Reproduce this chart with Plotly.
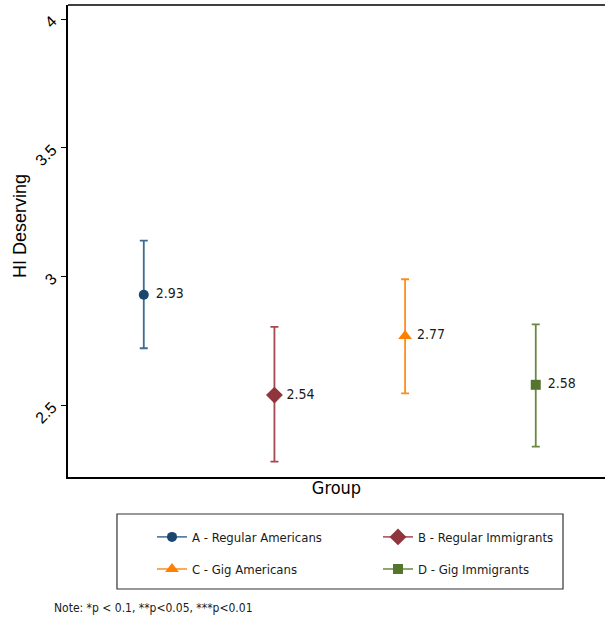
import plotly.graph_objects as go

groups = ["A - Regular Americans", "B - Regular Immigrants", "C - Gig Americans", "D - Gig Immigrants"]
legend_rows = ["legend", "legend", "legend2", "legend2"]
xpos = [1, 2, 3, 4]
means = [2.93, 2.54, 2.77, 2.58]
ci_hi = [3.14, 2.805, 2.99, 2.815]
ci_lo = [2.722, 2.282, 2.547, 2.34]
labels = ["2.93", "2.54", "2.77", "2.58"]
yticks = [2.5, 3, 3.5, 4]
ytick_text = ["2.5", "3", "3.5", "4"]

marker_colors = ["#1a476f", "#90353b", "#ff7f00", "#55752f"]
bar_colors = ["#3d6b94", "#a34950", "#ff8c1a", "#6a8844"]
symbols = ["circle", "diamond", "triangle-up", "square"]
sizes = [10, 13, 12, 10]

NARROW = "Liberation Sans Narrow, Arial Narrow, DejaVu Sans Condensed, Roboto Condensed, Roboto, sans-serif"
REG = "Liberation Sans, Arial, Helvetica, sans-serif"

fig = go.Figure()
for i in range(4):
    fig.add_trace(go.Scatter(
        x=[xpos[i]], y=[means[i]], mode="lines+markers", name=groups[i], legend=legend_rows[i],
        marker=dict(color=marker_colors[i], symbol=symbols[i], size=sizes[i]),
        line=dict(color=bar_colors[i], width=1.5),
        error_y=dict(type="data", symmetric=False,
                     array=[ci_hi[i] - means[i]], arrayminus=[means[i] - ci_lo[i]],
                     color=bar_colors[i], thickness=1.8, width=4),
    ))
for i in range(4):
    fig.add_trace(go.Scatter(
        x=[xpos[i]], y=[means[i]], mode="text", text=["   " + labels[i]],
        textposition="middle right", showlegend=False, hoverinfo="skip",
        textfont=dict(family=NARROW, size=14, color="#1a1a1a"),
    ))

leg_common = dict(orientation="h", xanchor="left", yanchor="middle", x=0.1564,
                  bgcolor="rgba(0,0,0,0)", borderwidth=0, entrywidth=181,
                  font=dict(family=NARROW, size=13, color="#1a1a1a"))

fig.update_layout(
    width=605, height=625,
    margin=dict(l=68, r=0, t=5, b=148, autoexpand=False),
    paper_bgcolor="white", plot_bgcolor="white",
    showlegend=True,
    legend=dict(y=-0.127, **leg_common),
    legend2=dict(y=-0.195, **leg_common),
    annotations=[
        dict(text="Note: *p < 0.1, **p<0.05, ***p<0.01", xref="paper", yref="paper",
             x=-0.03, y=-0.2775, xanchor="left", yanchor="middle", showarrow=False,
             font=dict(family=NARROW, size=12, color="#1a1a1a")),
        dict(text="HI Deserving", xref="paper", yref="paper", x=-0.089, y=0.532,
             xanchor="center", yanchor="middle", textangle=-90, showarrow=False,
             font=dict(family=REG, size=18, color="black")),
    ],
    shapes=[
        dict(type="line", xref="paper", yref="paper", x0=0, x1=1, y0=1, y1=1,
             line=dict(color="black", width=1.5)),
        dict(type="rect", xref="paper", yref="paper", x0=0.0912, x1=0.9218, y0=-0.0784, y1=-0.2373,
             line=dict(color="#333333", width=1.2)),
    ],
)
fig.update_xaxes(range=[0.42, 4.53], showgrid=False, zeroline=False, showticklabels=False,
                 ticks="", showline=True, linecolor="black", linewidth=1.5, automargin=False,
                 title=dict(text="Group", font=dict(family=NARROW, size=18, color="black"), standoff=4))
fig.update_yaxes(range=[2.222, 4.055], tickvals=yticks, ticktext=ytick_text, tickangle=-45,
                 showgrid=False, zeroline=False, ticks="outside", ticklen=5, tickcolor="black",
                 showline=True, linecolor="black", linewidth=1.5, automargin=False,
                 ticklabelstandoff=6,
                 tickfont=dict(family=REG, size=16, color="black"))

fig.write_html("out.html", config={"displayModeBar": False},
               post_script="document.body.style.margin='0';")
